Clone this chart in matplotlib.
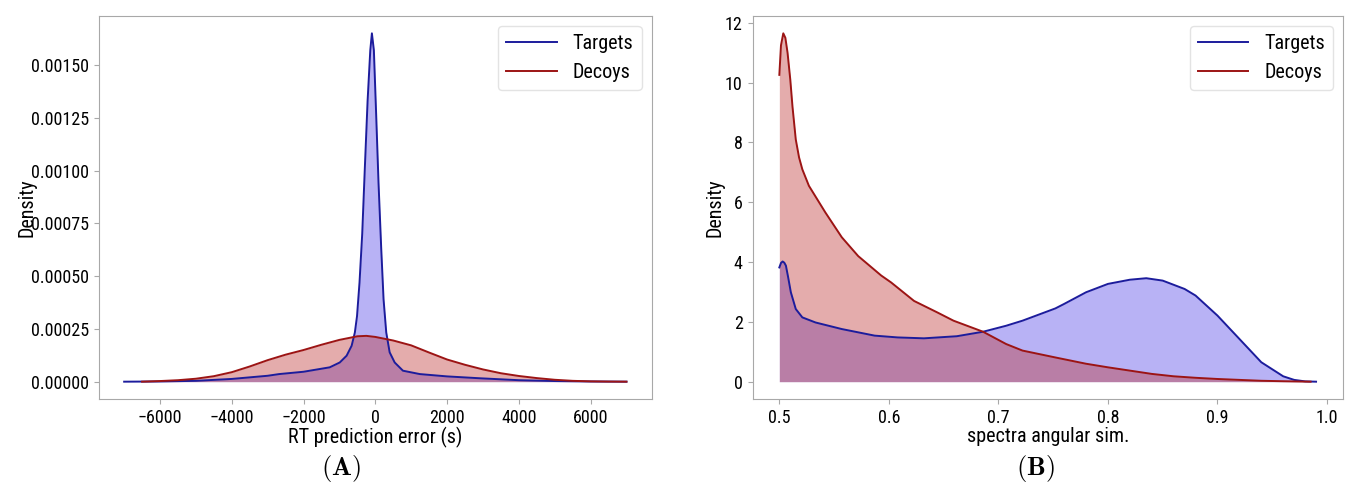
import numpy as np
import matplotlib
matplotlib.use('Agg')
import matplotlib.pyplot as plt
from matplotlib import font_manager

plt.rcParams['mathtext.fontset'] = 'cm'
plt.rcParams['font.stretch'] = 'condensed'
names = {f.name for f in font_manager.fontManager.ttflist}
narrow = [n for n in ['DejaVu Sans Condensed', 'Liberation Sans Narrow', 'Roboto Condensed',
                      'Open Sans Condensed'] if n in names]
plt.rcParams['font.family'] = narrow + ['DejaVu Sans']

# (A) RT prediction error density
rt_t_x = [-7000, -6000, -5000, -4000, -3000, -2680, -2000, -1270, -990, -800, -660,
          -570, -510, -440, -365, -290, -215, -140, -95, -40, 25, 90, 165, 230,
          305, 400, 540, 770, 1240, 2000, 2930, 4000, 5000, 6000, 7000]
rt_t_y = [0, 0.01, 0.04, 0.13, 0.28, 0.36, 0.47, 0.68, 0.91, 1.23, 1.70,
          2.33, 3.10, 4.70, 7.00, 10.2, 13.3, 15.7, 16.5, 15.7, 12.6, 9.4, 6.3, 3.9,
          2.33, 1.39, 0.91, 0.52, 0.36, 0.25, 0.16, 0.07, 0.03, 0.01, 0]
rt_d_x = [-6500, -6000, -5500, -5000, -4500, -4000, -3500, -3000, -2500, -2000,
          -1500, -1000, -500, -250, 0, 500, 1000, 1500, 2000, 2500, 3000, 3500,
          4000, 4500, 5000, 5500, 6000, 6500, 7000]
rt_d_y = [0, 0.03, 0.07, 0.14, 0.26, 0.45, 0.72, 1.02, 1.28, 1.50, 1.75, 1.98,
          2.15, 2.17, 2.12, 1.95, 1.72, 1.38, 1.05, 0.80, 0.58, 0.40, 0.27, 0.17,
          0.09, 0.04, 0.015, 0.005, 0]

# (B) spectra angular similarity density
sa_t_x = [0.5, 0.5015, 0.503, 0.5045, 0.506, 0.508, 0.5105, 0.515, 0.521, 0.533,
          0.557, 0.572, 0.587, 0.608, 0.632, 0.662, 0.686, 0.707, 0.722, 0.752,
          0.76, 0.78, 0.8, 0.82, 0.835, 0.85, 0.87, 0.88, 0.9, 0.92, 0.94, 0.96,
          0.97, 0.98, 0.99]
sa_t_y = [3.82, 3.97, 4.02, 3.98, 3.88, 3.5, 2.99, 2.43, 2.15, 1.98,
          1.76, 1.65, 1.54, 1.48, 1.45, 1.52, 1.67, 1.87, 2.04, 2.45,
          2.6, 2.99, 3.27, 3.41, 3.46, 3.38, 3.10, 2.88, 2.21, 1.43, 0.65, 0.18,
          0.06, 0.01, 0]
sa_d_x = [0.5, 0.5015, 0.5036, 0.5055, 0.5075, 0.51, 0.512, 0.515, 0.518, 0.521,
          0.527, 0.542, 0.557, 0.572, 0.593, 0.602, 0.623, 0.644, 0.659, 0.686,
          0.707, 0.722, 0.752, 0.78, 0.8, 0.84, 0.86, 0.88, 0.9, 0.94, 0.96, 0.985]
sa_d_y = [10.26, 11.25, 11.65, 11.5, 11.0, 10.1, 9.2, 8.1, 7.5, 7.1,
          6.55, 5.66, 4.83, 4.2, 3.55, 3.32, 2.7, 2.32, 2.04, 1.67,
          1.26, 1.04, 0.81, 0.6, 0.48, 0.26, 0.18, 0.13, 0.09, 0.03, 0.015, 0]

blue_line = '#1c1c9c'
red_line = '#9c1414'
blue_fill = '#4e3fe6'
red_fill = '#bc3030'
alpha = 0.4
spine_col = '#a8a8a8'

fig = plt.figure(figsize=(13.51, 4.82), dpi=100)
ax1 = fig.add_axes([0.0733, 0.172, 0.409, 0.795])
ax2 = fig.add_axes([0.557, 0.172, 0.437, 0.795])


def draw(ax, tx, ty, dx, dy, pad):
    ax.fill_between(tx, ty, color=blue_fill, alpha=alpha, linewidth=0)
    ax.plot(tx, ty, color=blue_line, lw=1.4, label='Targets')
    ax.fill_between(dx, dy, color=red_fill, alpha=alpha, linewidth=0)
    ax.plot(dx, dy, color=red_line, lw=1.4, label='Decoys')
    for s in ax.spines.values():
        s.set_color(spine_col)
    ax.tick_params(labelsize=13, color=spine_col)
    ax.set_ylabel('Density', fontsize=14.5, labelpad=pad)
    leg = ax.legend(loc='upper right', fontsize=14.5, handlelength=2.5)
    leg.get_frame().set_edgecolor('#dddddd')


draw(ax1, rt_t_x, np.array(rt_t_y) * 1e-4, rt_d_x, np.array(rt_d_y) * 1e-4, -4)
ax1.set_xticks(np.arange(-6000, 6001, 2000))
ax1.set_yticks(np.arange(0, 0.00151, 0.00025))
ax1.yaxis.set_major_formatter(matplotlib.ticker.FormatStrFormatter('%.5f'))
ax1.set_xlabel('RT prediction error (s)', fontsize=14.5, labelpad=0)

draw(ax2, sa_t_x, sa_t_y, sa_d_x, sa_d_y, 0)
ax2.set_xticks([0.5, 0.6, 0.7, 0.8, 0.9, 1.0])
ax2.set_yticks(range(0, 13, 2))
ax2.set_xlabel('spectra angular sim.', fontsize=14.5, labelpad=0)

fig.text(0.252, 0.015, r'$\mathbf{(A)}$', ha='center', fontsize=19)
fig.text(0.766, 0.015, r'$\mathbf{(B)}$', ha='center', fontsize=19)

fig.savefig('out.png', dpi=100)
